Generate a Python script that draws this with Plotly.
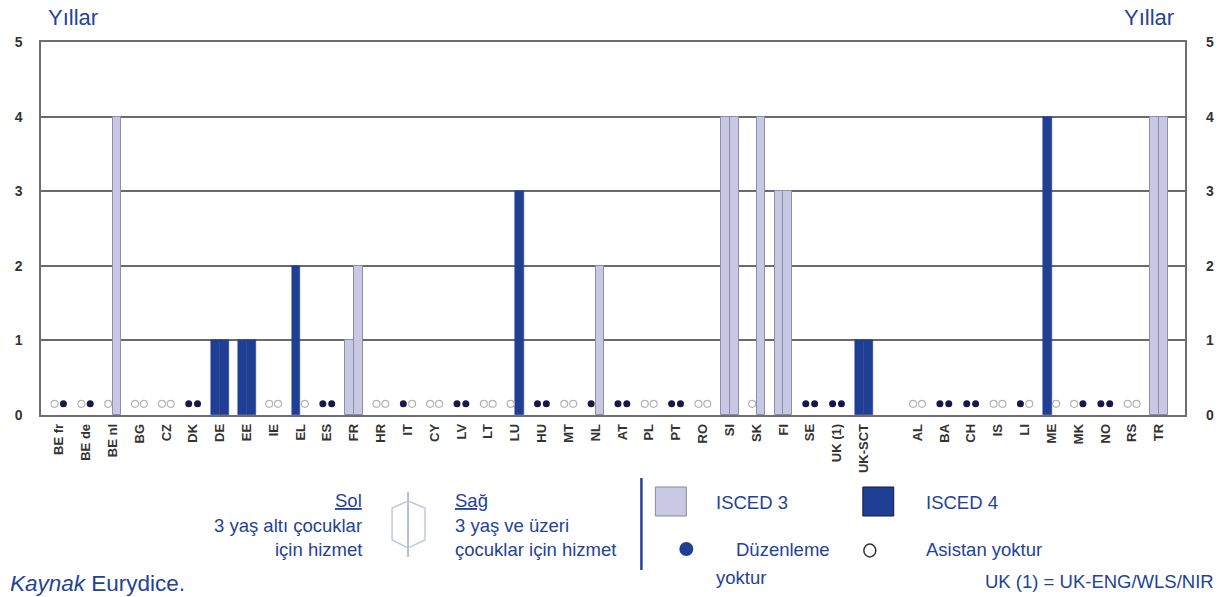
import plotly.graph_objects as go

# ---------------- data ----------------
countries = ["BE fr", "BE de", "BE nl", "BG", "CZ", "DK", "DE", "EE", "IE", "EL",
             "ES", "FR", "HR", "IT", "CY", "LV", "LT", "LU", "HU", "MT", "NL",
             "AT", "PL", "PT", "RO", "SI", "SK", "FI", "SE", "UK (1)", "UK-SCT",
             "",
             "AL", "BA", "CH", "IS", "LI", "ME", "MK", "NO", "RS", "TR"]

# status codes: "3" = ISCED 3, "4" = ISCED 4, "F" = no regulation, "O" = no assistant
left_status = ["O", "O", "O", "O", "O", "F", "4", "4", "O", "4",
               "F", "3", "O", "F", "O", "F", "O", "O", "F", "O", "F",
               "F", "O", "F", "O", "3", "O", "3", "F", "F", "4",
               "",
               "O", "F", "F", "O", "F", "4", "O", "F", "O", "3"]
left_years = [0, 0, 0, 0, 0, 0, 1, 1, 0, 2,
              0, 1, 0, 0, 0, 0, 0, 0, 0, 0, 0,
              0, 0, 0, 0, 4, 0, 3, 0, 0, 1,
              0,
              0, 0, 0, 0, 0, 4, 0, 0, 0, 4]

right_status = ["F", "F", "3", "O", "O", "F", "4", "4", "O", "O",
                "F", "3", "O", "O", "O", "F", "O", "4", "F", "O", "3",
                "F", "O", "F", "O", "3", "3", "3", "F", "F", "4",
                "",
                "O", "F", "F", "O", "O", "O", "F", "F", "O", "3"]
right_years = [0, 0, 4, 0, 0, 0, 1, 1, 0, 0,
               0, 2, 0, 0, 0, 0, 0, 3, 0, 0, 2,
               0, 0, 0, 0, 4, 4, 3, 0, 0, 1,
               0,
               0, 0, 0, 0, 0, 0, 0, 0, 0, 4]

y_ticks = [0, 1, 2, 3, 4, 5]

# ---------------- style ----------------
C_TXT = "#23429a"
C_I3 = "#c8c8e4"
C_I3_LINE = "#8e8eaa"
C_I4 = "#1f3f94"
C_DOT = "#15194a"
C_OPEN = "#b4b4b4"
NARROW = "Liberation Sans Narrow, Arial Narrow, Liberation Sans, Arial, sans-serif"
REG = "Liberation Sans, Arial, sans-serif"
LEG_SIZE = 18.5

W, H = 1226, 597
PL, PR, PT, PB = 41, 1188, 42, 415
OFF = 0.165
BW = 0.33
MARK_Y = 0.15


def X(px):
    return (px - PL) / (PR - PL)


def Y(py):
    return (PB - py) / (PB - PT)


pos = list(range(len(countries)))

bars = {"3": ([], []), "4": ([], [])}
marks = {"F": [], "O": []}
for side_status, side_years, off in ((left_status, left_years, -OFF),
                                     (right_status, right_years, OFF)):
    for p, s, v in zip(pos, side_status, side_years):
        if s in bars:
            bars[s][0].append(p + off)
            bars[s][1].append(v)
        elif s in marks:
            marks[s].append(p + off)

fig = go.Figure()
fig.add_trace(go.Bar(x=bars["3"][0], y=bars["3"][1], width=BW,
                     marker=dict(color=C_I3, line=dict(color=C_I3_LINE, width=1)),
                     name="ISCED 3"))
fig.add_trace(go.Bar(x=bars["4"][0], y=bars["4"][1], width=BW,
                     marker=dict(color=C_I4, line=dict(color=C_I4, width=0.5)),
                     name="ISCED 4"))
fig.add_trace(go.Scatter(x=marks["F"], y=[MARK_Y] * len(marks["F"]), mode="markers",
                         marker=dict(symbol="circle", size=7, color=C_DOT),
                         name="Düzenleme yoktur"))
fig.add_trace(go.Scatter(x=marks["O"], y=[MARK_Y] * len(marks["O"]), mode="markers",
                         marker=dict(symbol="circle-open", size=7, color=C_OPEN,
                                     line=dict(width=1.2)),
                         name="Asistan yoktur"))
# right-axis carrier
fig.add_trace(go.Scatter(x=[pos[0]], y=[0], yaxis="y2", mode="markers",
                         marker=dict(opacity=0), hoverinfo="skip", showlegend=False))

tick_pos = [p for p, c in zip(pos, countries) if c]
tick_txt = [c for c in countries if c]

axis_font = dict(family=REG, size=14, color="#333333", weight="bold")

fig.update_layout(
    width=W, height=H,
    margin=dict(l=PL, r=W - PR, t=PT, b=H - PB),
    paper_bgcolor="white", plot_bgcolor="white",
    showlegend=False, bargap=0,
    xaxis=dict(range=[-0.67, len(countries) - 0.03], tickmode="array",
               tickvals=tick_pos, ticktext=tick_txt, tickangle=-90,
               tickfont=dict(family=REG, size=13, color="#333333", weight="bold"),
               showgrid=False, zeroline=False, showline=True, mirror=True,
               linecolor="#6e6e6e", linewidth=1.5, ticks="", ticklabelstandoff=2),
    yaxis=dict(range=[0, 5], tickmode="array", tickvals=y_ticks,
               tickfont=axis_font, showgrid=True, gridcolor="#6a6a6a", gridwidth=1.5,
               zeroline=False, showline=True, mirror=True, linecolor="#6e6e6e",
               linewidth=1.5, ticks="", ticklabelstandoff=14),
    yaxis2=dict(range=[0, 5], tickmode="array", tickvals=y_ticks, overlaying="y",
                side="right", tickfont=axis_font, showgrid=False, zeroline=False,
                showline=False, ticks="", ticklabelstandoff=20),
)

ann = []


def text(t, px, py, anchor="left", size=LEG_SIZE, family=NARROW, color=C_TXT):
    ann.append(dict(text=t, x=X(px), y=Y(py), xref="paper", yref="paper",
                    xanchor=anchor, yanchor="middle", showarrow=False,
                    font=dict(family=family, size=size, color=color)))


text("Yıllar", 46, 18, size=22, family=REG)
text("Yıllar", 1179, 18, anchor="right", size=22, family=REG)

text("<u>Sol</u>", 365, 500, anchor="right")
text("3 yaş altı çocuklar", 365, 525, anchor="right")
text("için hizmet", 365, 549, anchor="right")
text("<u>Sağ</u>", 454, 500)
text("3 yaş ve üzeri", 454, 525)
text("çocuklar için hizmet", 454, 549)

text("ISCED 3", 716, 502)
text("ISCED 4", 926, 502)
text("Düzenleme", 736, 549)
text("yoktur", 716, 577)
text("Asistan yoktur", 926, 549)
text("UK (1) = UK-ENG/WLS/NIR", 1219, 581, anchor="right")
text("<i>Kaynak</i> Eurydice.", 8, 583, size=22.5, family=REG)

shapes = []


def rect(x0, y0, x1, y1, fill, line, lw=1):
    shapes.append(dict(type="rect", xref="paper", yref="paper",
                       x0=X(x0), x1=X(x1), y0=Y(y1), y1=Y(y0),
                       fillcolor=fill, line=dict(color=line, width=lw)))


def seg(x0, y0, x1, y1, color, lw):
    shapes.append(dict(type="line", xref="paper", yref="paper",
                       x0=X(x0), x1=X(x1), y0=Y(y0), y1=Y(y1),
                       line=dict(color=color, width=lw)))


rect(657, 487, 688, 516, C_I3, "#8a8a8a", 1)
rect(865, 487, 896, 516, C_I4, "#141a3a", 1)
shapes.append(dict(type="circle", xref="paper", yref="paper",
                   x0=X(681), x1=X(695), y0=Y(556), y1=Y(542),
                   fillcolor=C_I4, line=dict(color=C_I4, width=0)))
shapes.append(dict(type="circle", xref="paper", yref="paper",
                   x0=X(866), x1=X(878), y0=Y(557), y1=Y(544),
                   fillcolor="rgba(0,0,0,0)", line=dict(color="#333333", width=1.5)))
seg(643, 478, 643, 570, C_TXT, 2.5)

# left/right icon
seg(409, 492, 409, 557, "#b8bcd8", 2)
hexpts = [(409, 501), (426, 508), (426, 540), (409, 548), (393, 540), (393, 508)]
path = "M " + " L ".join(f"{X(a):.5f},{Y(b):.5f}" for a, b in hexpts) + " Z"
shapes.append(dict(type="path", xref="paper", yref="paper", path=path,
                   line=dict(color="#c4c8dc", width=1.5)))

fig.update_layout(annotations=ann, shapes=shapes)

fig.write_html("out.html", config=dict(displayModeBar=False),
               post_script="document.body.style.margin='0';document.body.style.overflow='hidden';")
